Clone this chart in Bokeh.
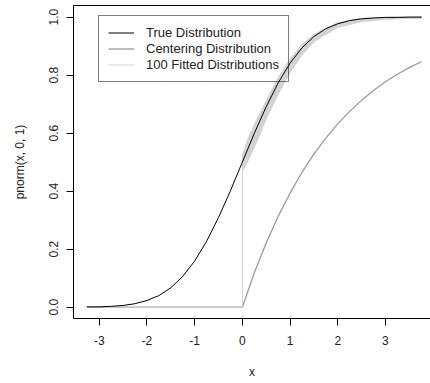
from bokeh.plotting import figure
from bokeh.models import (LinearAxis, FixedTicker, PrintfTickFormatter, Legend,
                          LegendItem, Range1d)
from bokeh.embed import file_html
from bokeh.resources import INLINE

# ---- data ----
true_x = [-3.26, -3.0, -2.75, -2.5, -2.25, -2.0, -1.75, -1.5, -1.25, -1.0, -0.75, -0.5, -0.25,
          0.0, 0.25, 0.5, 0.75, 1.0, 1.25, 1.5, 1.75, 2.0, 2.25, 2.5, 2.75, 3.0, 3.25, 3.5, 3.76]
true_y = [0.001, 0.001, 0.003, 0.006, 0.012, 0.023, 0.040, 0.067, 0.106, 0.159, 0.227, 0.309, 0.401,
          0.500, 0.599, 0.691, 0.773, 0.841, 0.894, 0.933, 0.960, 0.977, 0.988, 0.994, 0.997, 0.999,
          0.999, 1.000, 1.000]

center_x = [-3.26, 0.0, 0.25, 0.5, 0.75, 1.0, 1.25, 1.5, 1.75, 2.0, 2.25, 2.5, 2.75, 3.0, 3.25, 3.5, 3.76]
center_y = [0.0, 0.0, 0.118, 0.221, 0.313, 0.393, 0.465, 0.528, 0.583, 0.632, 0.675, 0.713, 0.747,
            0.777, 0.803, 0.826, 0.847]

fit_x = [0.0, 0.1, 0.2, 0.3, 0.5, 0.75, 1.0, 1.25, 1.5, 2.0, 2.5, 3.0, 3.76]
fit_upper = [0.52, 0.57, 0.61, 0.645, 0.71, 0.79, 0.855, 0.905, 0.94, 0.98, 0.995, 0.999, 1.0]
fit_lower = [0.47, 0.50, 0.535, 0.57, 0.65, 0.735, 0.81, 0.87, 0.915, 0.965, 0.985, 0.993, 0.997]
fit_flat_x = [-3.26, 0.0, 0.0]
fit_flat_y = [0.0, 0.0, 0.47]

x_ticks = [-3, -2, -1, 0, 1, 2, 3, 4]
y_ticks = [0.0, 0.2, 0.4, 0.6, 0.8, 1.0]
legend_labels = ["True Distribution", "Centering Distribution", "100 Fitted Distributions"]

FONT = "Liberation Sans"
C_TRUE = "black"
C_CENTER = "#9a9a9a"
C_FIT = "#d3d3d3"

p = figure(width=430, height=383, output_backend="svg", toolbar_location=None,
           x_range=Range1d(-3.54, 3.945), y_range=Range1d(-0.039, 1.04),
           min_border_left=73, min_border_right=0, min_border_top=5, min_border_bottom=65)
p.background_fill_color = "white"
p.border_fill_color = "white"
p.outline_line_color = None
p.xgrid.visible = False
p.ygrid.visible = False

# centering distribution
r_center = p.line(center_x, center_y, line_color=C_CENTER, line_width=1.3)

# fitted distributions band
band_x = fit_x + fit_x[::-1]
band_y = fit_lower + fit_upper[::-1]
p.patch(band_x, band_y, fill_color=C_FIT, line_color=C_FIT, line_width=1)
r_fit = p.line(fit_flat_x + fit_x, fit_flat_y + fit_lower, line_color=C_FIT, line_width=1)
p.line(fit_x, fit_upper, line_color=C_FIT, line_width=1)

# true distribution
r_true = p.line(true_x, true_y, line_color=C_TRUE, line_width=1)

# axes styling
for ax in (p.xaxis[0], p.yaxis[0]):
    ax.axis_line_color = "black"
    ax.axis_line_width = 1
    ax.major_tick_line_color = "black"
    ax.major_tick_out = 7
    ax.major_tick_in = 0
    ax.minor_tick_line_color = None
    ax.major_label_text_font = FONT
    ax.major_label_text_font_size = "12px"
    ax.major_label_text_color = "#222222"
    ax.axis_label_text_font = FONT
    ax.axis_label_text_font_size = "12px"
    ax.axis_label_text_font_style = "normal"
    ax.axis_label_text_color = "#222222"

p.xaxis[0].ticker = FixedTicker(ticks=x_ticks)
p.xaxis[0].formatter = PrintfTickFormatter(format="%d")
p.xaxis[0].axis_label = "x"
p.xaxis[0].major_label_standoff = 10
p.xaxis[0].axis_label_standoff = 17

p.yaxis[0].ticker = FixedTicker(ticks=y_ticks)
p.yaxis[0].formatter = PrintfTickFormatter(format="%.1f")
p.yaxis[0].axis_label = "pnorm(x, 0, 1)"
p.yaxis[0].major_label_orientation = "vertical"
p.yaxis[0].major_label_standoff = 8
p.yaxis[0].axis_label_standoff = 20

top = LinearAxis(ticker=FixedTicker(ticks=[]), axis_line_color="black",
                 major_tick_line_color=None, minor_tick_line_color=None,
                 major_label_text_font_size="0px")
p.add_layout(top, "above")

legend = Legend(items=[LegendItem(label=legend_labels[0], renderers=[r_true]),
                       LegendItem(label=legend_labels[1], renderers=[r_center]),
                       LegendItem(label=legend_labels[2], renderers=[r_fit])],
                location=(25, 236))
legend.label_text_font = FONT
legend.label_text_font_size = "13px"
legend.label_text_color = "#222222"
legend.glyph_width = 26
legend.glyph_height = 15
legend.label_height = 15
legend.label_standoff = 12
legend.spacing = 1
legend.padding = 9
legend.margin = 0
legend.border_line_color = "black"
legend.border_line_width = 1
legend.background_fill_alpha = 0
p.add_layout(legend)

open("out.html", "w").write(file_html(p, INLINE))
